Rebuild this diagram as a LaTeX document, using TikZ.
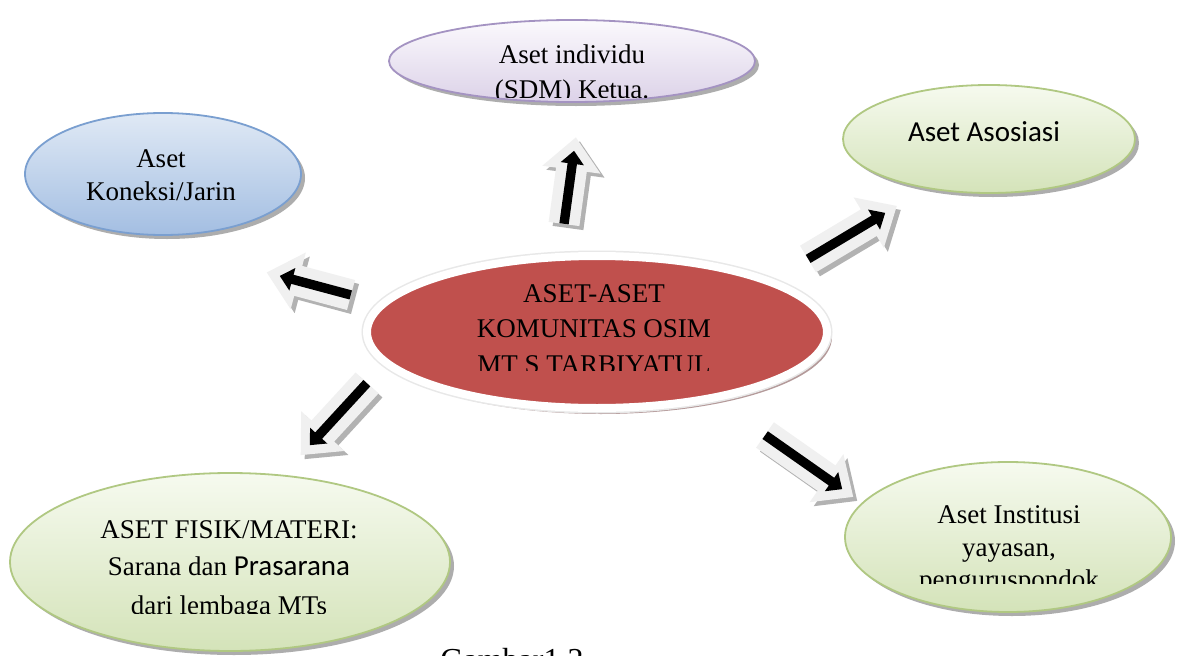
\documentclass[tikz,border=0pt]{standalone}
\usepackage{fontspec}
\setmainfont{Liberation Serif}
\newfontfamily\calib{Carlito}
\usetikzlibrary{shapes.geometric,shapes.arrows,calc}
\definecolor{purTop}{HTML}{FBF9FD}
\definecolor{purBot}{HTML}{DCD2E8}
\definecolor{purBrd}{HTML}{A493C2}
\definecolor{bluTop}{HTML}{E0E9F5}
\definecolor{bluBot}{HTML}{A3BEE2}
\definecolor{bluBrd}{HTML}{7A9FD0}
\definecolor{grnTop}{HTML}{F6FAEF}
\definecolor{grnBot}{HTML}{D4E3B9}
\definecolor{grnBrd}{HTML}{B0C882}
\definecolor{redFill}{HTML}{C0504D}
\definecolor{redShad}{HTML}{B49A9A}
\definecolor{arrOut}{HTML}{F0F0F0}
\tikzset{
  ell/.style={ellipse, inner sep=0pt, line width=1.8pt},
  shad/.style={ellipse, inner sep=0pt, fill=black!32, draw=none},
  txt/.style={anchor=base, inner sep=0pt, font=\fontsize{27}{35}\selectfont},
  barr/.style={single arrow, single arrow head extend=7pt, single arrow head indent=0pt,
    single arrow tip angle=84, inner xsep=0pt, inner ysep=4.5pt, text height=0pt, text depth=0pt,
    minimum width=0pt, line join=miter},
}
\newcommand\blkarrow[3]{%
  \path let \p1=($(#2)-(#1)$), \n1={atan2(\y1,\x1)}, \n2={veclen(\x1,\y1)} in
    node[barr, fill=black!30, draw=black!30, line width=11pt, rotate=\n1, minimum height=\n2, anchor=tail] at ($(#1)+(4,4)$) {}
    node[barr, fill=arrOut, draw=arrOut, line width=11pt, rotate=\n1, minimum height=\n2, anchor=tail] at (#1) {}
    node[barr, fill=black, rotate=\n1, minimum height=\n2, anchor=tail] (#3) at (#1) {};
}
\begin{document}
\begin{tikzpicture}[x=1pt,y=-1pt]
\useasboundingbox (0,0) rectangle (1179,656);
\clip (0,0) rectangle (1179,656);
\fill[white] (0,0) rectangle (1179,656);

% shadows
\node[shad, minimum width=366pt, minimum height=82pt] at (576,65) {};
\node[shad, minimum width=276pt, minimum height=122pt] at (167,178) {};
\node[shad, minimum width=292pt, minimum height=108pt] at (993,143) {};
\node[shad, minimum width=440pt, minimum height=178pt] at (234,566) {};
\node[shad, minimum width=326pt, minimum height=150pt] at (1012,541) {};
\node[ellipse, inner sep=0pt, fill=redShad, minimum width=462pt, minimum height=154pt] at (601,337) {};

% ellipses
\node[ell, draw=purBrd, top color=purTop, bottom color=purBot, minimum width=366pt, minimum height=82pt] (ind) at (572,61) {};
\node[ell, draw=bluBrd, top color=bluTop, bottom color=bluBot, minimum width=276pt, minimum height=122pt] (kon) at (163,174) {};
\node[ell, draw=grnBrd, top color=grnTop, bottom color=grnBot, minimum width=292pt, minimum height=108pt] (aso) at (989,139) {};
\node[ell, draw=grnBrd, top color=grnTop, bottom color=grnBot, minimum width=440pt, minimum height=178pt] (fis) at (230,562) {};
\node[ell, draw=grnBrd, top color=grnTop, bottom color=grnBot, minimum width=326pt, minimum height=150pt] (ins) at (1008,537) {};
\node[ellipse, inner sep=0pt, draw=black!9, line width=11pt, minimum width=460pt, minimum height=152pt] at (597,332) {};
\node[ellipse, inner sep=0pt, fill=redFill, draw=white, line width=8pt, minimum width=460pt, minimum height=152pt] (kom) at (597,332) {};

% texts
\begin{scope}
\clip (390,20) rectangle (755,97);
\node[txt] (t1a) at (572,63) {Aset individu};
\node[txt] (t1b) at (572,98) {(SDM) Ketua.};
\end{scope}
\node[txt] (t2a) at (161,167) {Aset};
\node[txt] (t2b) at (161,200) {Koneksi/Jarin};
\node[txt, font=\calib\fontsize{29}{35}\selectfont] (t3) at (984,141) {Aset Asosiasi};
\begin{scope}
\clip (370,260) rectangle (825,370);
\node[txt] (t4a) at (594,302) {ASET-ASET};
\node[txt] (t4b) at (594,337) {KOMUNITAS OSIM};
\node[txt] (t4c) at (594,373) {MT S TARBIYATUL};
\end{scope}
\begin{scope}
\clip (20,480) rectangle (445,613);
\node[txt] (t5a) at (229,538) {ASET FISIK/MATERI:};
\node[txt] (t5b) at (229,575) {Sarana dan {\calib\fontsize{29}{35}\selectfont Prasarana}};
\node[txt] (t5c) at (229,614) {dari lembaga MTs};
\end{scope}
\begin{scope}
\clip (850,470) rectangle (1165,583);
\node[txt] (t6a) at (1009,523) {Aset Institusi};
\node[txt] (t6b) at (1009,556) {yayasan,};
\node[txt] (t6c) at (1009,588) {penguruspondok};
\end{scope}
\node[anchor=base, inner sep=0pt, font=\fontsize{32}{32}\selectfont] (cap) at (512,670) {Gambar1.2};

% block arrows
\coordinate (u0) at (564,224); \coordinate (u1) at (574,151);
\coordinate (r0) at (808,259); \coordinate (r1) at (885,213);
\coordinate (l0) at (351,295); \coordinate (l1) at (280,276);
\coordinate (d0) at (367,383); \coordinate (d1) at (310,445);
\coordinate (e0) at (765,435); \coordinate (e1) at (842,489);
\blkarrow{u0}{u1}{au}
\blkarrow{r0}{r1}{ar}
\blkarrow{l0}{l1}{al}
\blkarrow{d0}{d1}{ad}
\blkarrow{e0}{e1}{ae}
\end{tikzpicture}
\end{document}
